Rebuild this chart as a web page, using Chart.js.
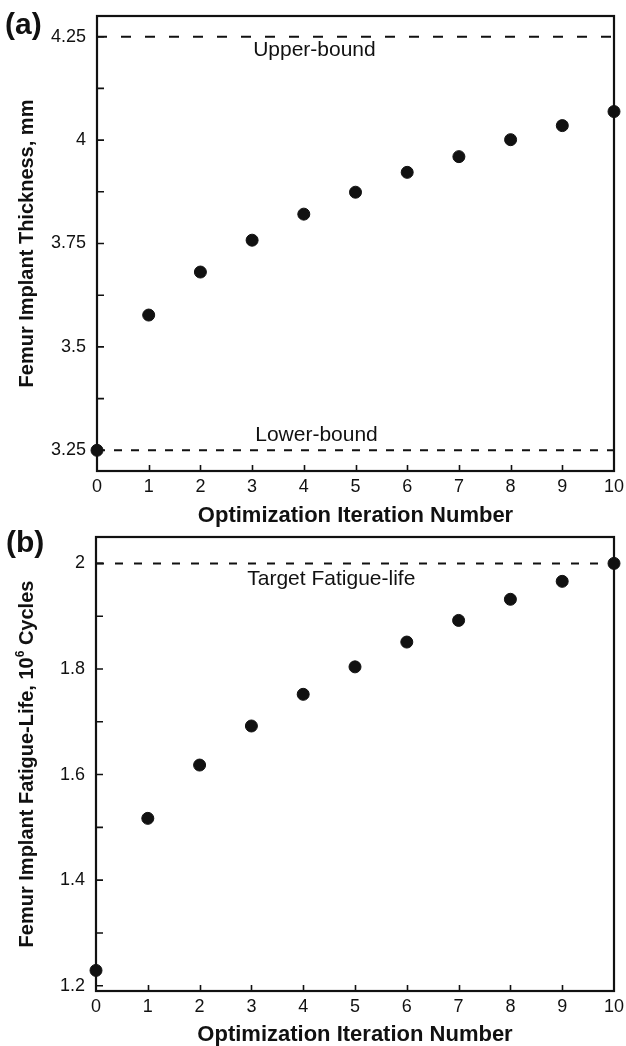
<!DOCTYPE html>
<html><head><meta charset="utf-8">
<script src="https://cdn.jsdelivr.net/npm/chart.js@4"></script>
<style>
html,body{margin:0;padding:0;background:#fff;width:626px;height:1046px;overflow:hidden}
canvas{position:absolute;left:0}
#ca{top:0}
#cb{top:530px}
</style></head>
<body>
<canvas id="ca" width="626" height="530"></canvas>
<canvas id="cb" width="626" height="516"></canvas>
<script>
// ---- data ----
const iterations = [0, 1, 2, 3, 4, 5, 6, 7, 8, 9, 10];
const thicknessMm = [3.25, 3.577, 3.681, 3.758, 3.821, 3.874, 3.922, 3.960, 4.001, 4.035, 4.069];
const fatigueLife = [1.229, 1.517, 1.618, 1.692, 1.752, 1.804, 1.851, 1.892, 1.932, 1.966, 2.0];
const xTickValues = [0, 1, 2, 3, 4, 5, 6, 7, 8, 9, 10];
const thicknessMajorTicks = [3.25, 3.5, 3.75, 4, 4.25];
const thicknessMinorTicks = [3.375, 3.625, 3.875, 4.125];
const fatigueMajorTicks = [1.2, 1.4, 1.6, 1.8, 2];
const fatigueMinorTicks = [1.3, 1.5, 1.7, 1.9];
const upperBound = 4.25;
const lowerBound = 3.25;
const targetLife = 2;
const labelsA = ['Upper-bound', 'Lower-bound'];
const labelsB = ['Target Fatigue-life'];

const FONT = "'Liberation Sans', Arial, Helvetica, sans-serif";
const INK = '#111';

const framePlugin = {
  id: 'frame',
  beforeDatasetsDraw(chart) {
    const {ctx, chartArea: a, scales: {x, y}} = chart;
    ctx.save();
    ctx.strokeStyle = INK;
    ctx.lineWidth = 1.6;
    ctx.beginPath();
    x.ticks.forEach(t => {
      if (t.value <= x.min || t.value >= x.max) return;
      const px = Math.round(x.getPixelForValue(t.value)) + 0.5;
      ctx.moveTo(px, a.bottom); ctx.lineTo(px, a.bottom - 6);
    });
    y.ticks.forEach(t => {
      const py = y.getPixelForValue(t.value);
      ctx.moveTo(a.left, py); ctx.lineTo(a.left + 7, py);
    });
    ctx.stroke();
    ctx.lineWidth = 2.2;
    ctx.strokeRect(a.left, a.top, a.right - a.left, a.bottom - a.top);
    ctx.restore();
  }
};

const textPlugin = {
  id: 'texts',
  afterDraw(chart, args, opts) {
    const {ctx, chartArea: a, scales: {x, y}} = chart;
    ctx.save();
    ctx.fillStyle = INK;
    ctx.font = `bold 30px ${FONT}`;
    ctx.textBaseline = 'middle';
    ctx.textAlign = 'left';
    ctx.fillText(opts.panel, opts.panelX, opts.panelY);
    ctx.font = `21px ${FONT}`;
    ctx.textBaseline = 'alphabetic';
    (opts.notes || []).forEach(n => {
      ctx.fillText(n.text, x.getPixelForValue(n.x), y.getPixelForValue(n.y) + n.dy);
    });
    const parts = opts.yTitle;
    const mainFont = `bold 20px ${FONT}`;
    const supFont = `bold 12px ${FONT}`;
    let W = 0;
    parts.forEach(p => { ctx.font = p.sup ? supFont : mainFont; p.w = ctx.measureText(p.text).width; W += p.w; });
    ctx.translate(opts.yTitleX, (a.top + a.bottom) / 2);
    ctx.rotate(-Math.PI / 2);
    let cx = -W / 2;
    parts.forEach(p => {
      ctx.font = p.sup ? supFont : mainFont;
      ctx.fillText(p.text, cx, p.sup ? -9 : 0);
      cx += p.w;
    });
    ctx.restore();
  }
};

function makeChart(id, cfg) {
  const pts = iterations.map((v, i) => ({x: v, y: cfg.values[i]}));
  const allTicks = cfg.major.concat(cfg.minor).sort((p, q) => p - q);
  const datasets = [{
    type: 'scatter', data: pts, backgroundColor: INK, borderColor: INK,
    pointRadius: 6, borderWidth: 1, clip: false, order: 0
  }];
  cfg.refs.forEach(r => datasets.push({
    type: 'line', data: [{x: xTickValues[0], y: r.v}, {x: xTickValues[xTickValues.length - 1], y: r.v}],
    borderColor: INK, borderWidth: 2, borderDash: r.dash, pointRadius: 0, fill: false, order: 1
  }));
  return new Chart(document.getElementById(id), {
    type: 'scatter',
    data: {datasets},
    options: {
      responsive: false, animation: false, events: [],
      layout: {padding: {left: 0, right: 12, top: cfg.top, bottom: 0}},
      plugins: {
        legend: {display: false}, tooltip: {enabled: false},
        texts: cfg.texts
      },
      scales: {
        x: {
          type: 'linear', min: 0, max: 10,
          afterBuildTicks: s => { s.ticks = xTickValues.map(v => ({value: v})); },
          afterFit: s => { s.height = cfg.xHeight; s.paddingLeft = 0; s.paddingRight = 0; },
          grid: {display: false, drawTicks: false},
          border: {display: false},
          ticks: {color: INK, padding: 6, font: {family: FONT, size: 18, lineHeight: 1.1}, maxRotation: 0, autoSkip: false,
                  callback: v => String(v)},
          title: {display: true, text: 'Optimization Iteration Number', color: INK,
                  font: {family: FONT, size: 22, weight: 'bold', lineHeight: 1},
                  padding: {top: 0, bottom: cfg.xTitlePad}}
        },
        y: {
          type: 'linear', min: cfg.min, max: cfg.max,
          afterBuildTicks: s => { s.ticks = allTicks.map(v => ({value: v})); },
          afterFit: s => { s.width = cfg.yWidth; s.paddingTop = 0; s.paddingBottom = 0; },
          grid: {display: false, drawTicks: false},
          border: {display: false},
          ticks: {color: INK, padding: 11, font: {family: FONT, size: 18, lineHeight: 1.2}, autoSkip: false,
                  callback: v => cfg.major.some(m => Math.abs(m - v) < 1e-9) ? String(v) : ''}
        }
      }
    },
    plugins: [framePlugin, textPlugin]
  });
}

makeChart('ca', {
  values: thicknessMm, min: 3.2, max: 4.3,
  major: thicknessMajorTicks, minor: thicknessMinorTicks,
  refs: [{v: upperBound, dash: [10, 14]}, {v: lowerBound, dash: [8, 9]}],
  top: 16, yWidth: 97, xHeight: 59, xTitlePad: 3,
  texts: {
    panel: '(a)', panelX: 5, panelY: 26, yTitleX: 33,
    notes: [{text: labelsA[0], x: 3.02, y: upperBound, dy: 19}, {text: labelsA[1], x: 3.06, y: lowerBound, dy: -9}],
    yTitle: [{text: 'Femur Implant Thickness, mm'}]
  }
});

makeChart('cb', {
  values: fatigueLife, min: 1.19, max: 2.05,
  major: fatigueMajorTicks, minor: fatigueMinorTicks,
  refs: [{v: targetLife, dash: [8, 11]}],
  top: 5, yWidth: 96, xHeight: 55, xTitlePad: 0,
  texts: {
    panel: '(b)', panelX: 6, panelY: 13.5, yTitleX: 33,
    notes: [{text: labelsB[0], x: 2.92, y: targetLife, dy: 22}],
    yTitle: [{text: 'Femur Implant Fatigue-Life, 10'}, {text: '6', sup: true}, {text: ' Cycles'}]
  }
});
</script>
</body></html>
